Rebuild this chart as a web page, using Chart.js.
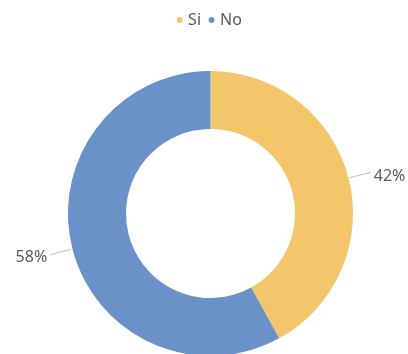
<!DOCTYPE html>
<html>
<head>
<meta charset="utf-8">
<script src="https://cdn.jsdelivr.net/npm/chart.js@4"></script>
<style>
  html, body { margin: 0; padding: 0; background: #ffffff; overflow: hidden; }
  #wrap { width: 408px; height: 354px; position: relative; }
</style>
</head>
<body>
<div id="wrap"><canvas id="c" width="408" height="354"></canvas></div>
<script>
const categories = ["Si", "No"];
const values = [42, 58];
const valueLabels = ["42%", "58%"];
const colors = ["#F3C66C", "#6A91C8"];

const legendMargin = {
  id: "legendMargin",
  beforeInit(chart) {
    const lg = chart.legend;
    const origFit = lg.fit;
    lg.fit = function () {
      origFit.call(this);
      this.height += 35;
    };
  }
};

const leaderLabels = {
  id: "leaderLabels",
  afterDatasetsDraw(chart) {
    const ctx = chart.ctx;
    const meta = chart.getDatasetMeta(0);
    ctx.save();
    ctx.font = "16px 'Noto Sans', sans-serif";
    ctx.fillStyle = "#595959";
    ctx.strokeStyle = "#BFBFBF";
    ctx.lineWidth = 1;
    meta.data.forEach((arc, i) => {
      const p = arc.getProps(["x", "y", "startAngle", "endAngle", "outerRadius"], true);
      const mid = (p.startAngle + p.endAngle) / 2;
      const c = Math.cos(mid), s = Math.sin(mid);
      const r1 = p.outerRadius + 1.5, r2 = p.outerRadius + 23;
      const x1 = p.x + c * r1, y1 = p.y + s * r1;
      const x2 = p.x + c * r2, y2 = p.y + s * r2;
      ctx.beginPath();
      ctx.moveTo(x1, y1);
      ctx.lineTo(x2, y2);
      ctx.stroke();
      ctx.textBaseline = "middle";
      if (c >= 0) {
        ctx.textAlign = "left";
        ctx.fillText(valueLabels[i], x2 + 3, y2 + 4);
      } else {
        ctx.textAlign = "right";
        ctx.fillText(valueLabels[i], x2 - 3, y2 + 3);
      }
    });
    ctx.restore();
  }
};

new Chart(document.getElementById("c"), {
  type: "doughnut",
  data: {
    labels: categories,
    datasets: [{
      data: values,
      backgroundColor: colors,
      borderWidth: 0,
      radius: 142.5,
      cutout: "59.3%"
    }]
  },
  options: {
    responsive: false,
    animation: false,
    devicePixelRatio: 1,
    layout: { padding: { top: 2, bottom: 0, left: 13, right: 0 } },
    plugins: {
      legend: {
        display: true,
        position: "top",
        labels: {
          usePointStyle: true,
          pointStyle: "circle",
          boxWidth: 1,
          boxHeight: 4.1,
          padding: 10,
          color: "#595959",
          font: { family: "'Noto Sans', sans-serif", size: 16 }
        }
      },
      tooltip: { enabled: false }
    }
  },
  plugins: [legendMargin, leaderLabels]
});
</script>
</body>
</html>
